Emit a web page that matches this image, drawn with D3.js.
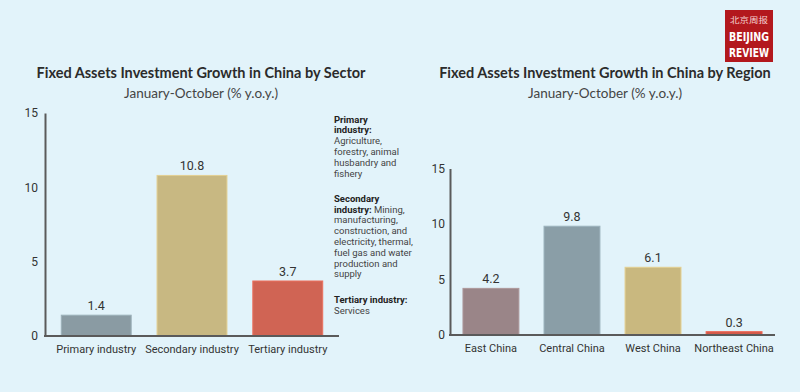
<!DOCTYPE html>
<html>
<head>
<meta charset="utf-8">
<script src="https://cdn.jsdelivr.net/npm/d3@7"></script>
<style>
  body { margin: 0; background: #e2f3fa; }
  svg { display: block; }
</style>
</head>
<body>
<svg id="viz" width="800" height="392"></svg>
<script>
const sectorCats = ["Primary industry", "Secondary industry", "Tertiary industry"];
const sectorVals = [1.4, 10.8, 3.7];
const sectorColors = ["#8a9ba3", "#c8b882", "#d06454"];

const regionCats = ["East China", "Central China", "West China", "Northeast China"];
const regionVals = [4.2, 9.8, 6.1, 0.3];
const regionColors = ["#9a8588", "#8a9ea7", "#c9b87f", "#d35a4a"];

const yTicks = [0, 5, 10, 15];
const titleSector = "Fixed Assets Investment Growth in China by Sector";
const titleRegion = "Fixed Assets Investment Growth in China by Region";
const subTitle = "January-October (% y.o.y.)";

// notes on the right of the sector chart: [text, bold?] per line
const notes = [
  [["Primary", true]],
  [["industry:", true]],
  [["Agriculture,", false]],
  [["forestry, animal", false]],
  [["husbandry and", false]],
  [["fishery", false]],
  null,
  [["Secondary", true]],
  [["industry:", true], [" Mining,", false]],
  [["manufacturing,", false]],
  [["construction, and", false]],
  [["electricity, thermal,", false]],
  [["fuel gas and water", false]],
  [["production and", false]],
  [["supply", false]],
  null,
  [["Tertiary industry:", true]],
  [["Services", false]]
];

const svg = d3.select("#viz");
svg.append("rect").attr("width", 800).attr("height", 392).attr("fill", "#e2f3fa");

const labelFont = "Roboto, sans-serif";
const titleFont = "Lato, sans-serif";

function drawChart(opt) {
  const g = svg.append("g");

  const x = d3.scaleBand()
    .domain(opt.cats)
    .range([opt.x0, opt.x1])
    .paddingInner(opt.padIn)
    .paddingOuter(opt.padOut);

  const y = d3.scaleLinear().domain([0, 15]).range([opt.yBottom, opt.yTop]);

  // title + subtitle
  g.append("text")
    .attr("x", opt.cx).attr("y", 78)
    .attr("text-anchor", "middle")
    .attr("font-family", titleFont).attr("font-weight", "bold")
    .attr("font-size", 14.5).attr("fill", "#2b2b2b")
    .text(opt.title);
  g.append("text")
    .attr("x", opt.cx).attr("y", 98)
    .attr("text-anchor", "middle")
    .attr("font-family", titleFont)
    .attr("font-size", 13.5).attr("fill", "#444")
    .text(subTitle);

  // bars
  g.selectAll("rect.bar")
    .data(opt.vals)
    .enter()
    .append("rect")
    .attr("class", "bar")
    .attr("x", (d, i) => x(opt.cats[i]))
    .attr("width", x.bandwidth())
    .attr("y", d => y(d))
    .attr("height", d => y(0) - y(d))
    .attr("fill", (d, i) => opt.colors[i])
    .attr("stroke", (d, i) => d3.color(opt.colors[i]).brighter(0.35))
    .attr("stroke-width", 1);

  // value labels
  g.selectAll("text.val")
    .data(opt.vals)
    .enter()
    .append("text")
    .attr("class", "val")
    .attr("x", (d, i) => x(opt.cats[i]) + x.bandwidth() / 2)
    .attr("y", d => y(d) - 5)
    .attr("text-anchor", "middle")
    .attr("font-family", labelFont)
    .attr("font-size", 12.5).attr("fill", "#333")
    .text(d => d);

  // y axis
  const yAxis = g.append("g")
    .attr("transform", `translate(${opt.x0},0)`)
    .call(d3.axisLeft(y).tickValues(yTicks).tickSize(0).tickPadding(opt.tickPad));
  yAxis.select(".domain").attr("stroke", "#5a5a5a").attr("stroke-width", 2);
  yAxis.selectAll("text")
    .attr("font-family", labelFont).attr("font-size", 12).attr("fill", "#333");

  // x axis
  const xAxis = g.append("g")
    .attr("transform", `translate(0,${opt.yBottom})`)
    .call(d3.axisBottom(x).tickSize(0).tickPadding(9));
  xAxis.select(".domain").attr("stroke", "#5a5a5a").attr("stroke-width", 2)
    .attr("d", `M${opt.x0 - 1},0H${opt.x1}`);
  xAxis.selectAll("text")
    .attr("font-family", labelFont).attr("font-size", 11).attr("fill", "#333");
}

drawChart({
  cats: sectorCats, vals: sectorVals, colors: sectorColors,
  x0: 45, x1: 339, padIn: 0.27, padOut: 0.17,
  yTop: 113, yBottom: 336, cx: 201, tickPad: 7,
  title: titleSector
});

drawChart({
  cats: regionCats, vals: regionVals, colors: regionColors,
  x0: 450, x1: 775, padIn: 0.31, padOut: 0.16,
  yTop: 168.5, yBottom: 335, cx: 605, tickPad: 5,
  title: titleRegion
});

// sector notes
const notesG = svg.append("g").attr("font-family", labelFont).attr("font-size", 9.5).attr("fill", "#333");
let ny = 122.5;
notes.forEach(line => {
  if (line === null) { ny += 14.5; return; }
  const t = notesG.append("text").attr("x", 334).attr("y", ny);
  line.forEach(([s, b]) => {
    t.append("tspan").attr("font-weight", b ? "bold" : "normal")
      .attr("fill", b ? "#222" : "#444").text(s);
  });
  ny += 10.8;
});

// Beijing Review logo
const logo = svg.append("g").attr("transform", "translate(725,10)");
logo.append("rect").attr("width", 48).attr("height", 52).attr("fill", "#b3181d");
logo.append("text").attr("x", 5).attr("y", 13)
  .attr("textLength", 38).attr("lengthAdjust", "spacingAndGlyphs")
  .attr("font-family", "'Noto Sans CJK SC', sans-serif")
  .attr("font-size", 8).attr("fill", "#f3d0d0").text("北京周报");
logo.append("text").attr("x", 4).attr("y", 31)
  .attr("textLength", 40).attr("lengthAdjust", "spacingAndGlyphs")
  .attr("font-family", "'Liberation Sans Narrow', 'DejaVu Sans Condensed', sans-serif")
  .attr("font-weight", "bold").attr("font-size", 13).attr("fill", "#fff").text("BEIJING");
logo.append("text").attr("x", 4).attr("y", 47)
  .attr("textLength", 40).attr("lengthAdjust", "spacingAndGlyphs")
  .attr("font-family", "'Liberation Sans Narrow', 'DejaVu Sans Condensed', sans-serif")
  .attr("font-weight", "bold").attr("font-size", 13).attr("fill", "#fff").text("REVIEW");
</script>
</body>
</html>
